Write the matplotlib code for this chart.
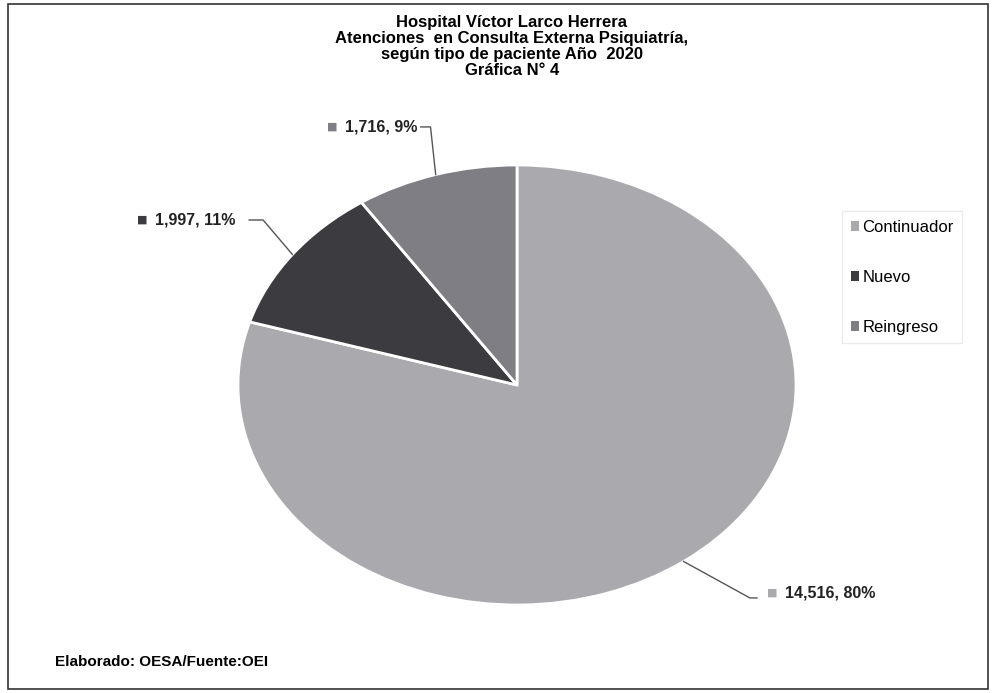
import matplotlib.pyplot as plt
from matplotlib.patches import Patch, Rectangle
import numpy as np

plt.rcParams['font.family'] = ['Liberation Sans', 'DejaVu Sans']

categorias = ["Continuador", "Nuevo", "Reingreso"]
atenciones = [14516, 1997, 1716]
porcentajes = ["80%", "11%", "9%"]
colores = ["#aaaaae", "#3c3c40", "#7e7e84"]

fig = plt.figure(figsize=(9.93, 6.93), dpi=100)
fig.patch.set_facecolor("white")

# pie stretched horizontally like the original
ax = fig.add_axes([238/993, 1 - 605/693, 558/993, 440/693])
wedges, _ = ax.pie(atenciones, colors=colores, startangle=90, counterclock=False,
                   wedgeprops=dict(edgecolor="white", linewidth=2))
ax.set_aspect("auto")
ax.set_xlim(-1, 1)
ax.set_ylim(-1, 1)

# label placement (text left edge, line bend, line end) in axes data units
txt_pos = [(0.961, -0.945), (-1.297, 0.75), (-0.616, 1.173)]
line_bend = [(0.835, -0.968), (-0.91, 0.75), (-0.31, 1.173)]
line_end = [(0.860, -0.968), (-0.96, 0.75), (-0.345, 1.173)]
for i, w in enumerate(wedges):
    ang = np.deg2rad((w.theta1 + w.theta2) / 2)
    px, py = np.cos(ang), np.sin(ang)
    bx, by = line_bend[i]
    ex, ey = line_end[i]
    ax.plot([px, bx, ex], [py, by, ey], color="#555555", lw=1, clip_on=False)
    tx, ty = txt_pos[i]
    ax.annotate("■", (tx, ty), xytext=(-13, 0), textcoords="offset points",
                fontsize=8, family="DejaVu Sans", color=colores[i], va="center",
                ha="left", annotation_clip=False)
    ax.text(tx, ty, f"{atenciones[i]:,}, {porcentajes[i]}", fontsize=11.5,
            fontweight="bold", color="#222222", va="center", ha="left", clip_on=False)

handles = [Patch(facecolor=c, edgecolor="none") for c in colores]
fig.legend(handles, categorias, loc="upper left", bbox_to_anchor=(834/993, 1 - 203/693),
           fontsize=12, handlelength=0.5, handleheight=0.5, handletextpad=0.2,
           labelspacing=2.1, frameon=True, edgecolor="#e6e6e6", fancybox=False,
           borderpad=0.5)

fig.text(512/993, 1 - 15/693,
         "Hospital Víctor Larco Herrera\nAtenciones  en Consulta Externa Psiquiatría,\n"
         "según tipo de paciente Año  2020\nGráfica N° 4",
         ha="center", va="top", fontsize=12, fontweight="bold", linespacing=1.08)

fig.text(55/993, 1 - 662/693, "Elaborado: OESA/Fuente:OEI", ha="left", va="center",
         fontsize=11, fontweight="bold")

fig.patches.append(Rectangle((8/993, 4/693), 980/993, 685/693, transform=fig.transFigure,
                             fill=False, edgecolor="#333333", linewidth=1.2))

fig.savefig("out.png", dpi=100)
